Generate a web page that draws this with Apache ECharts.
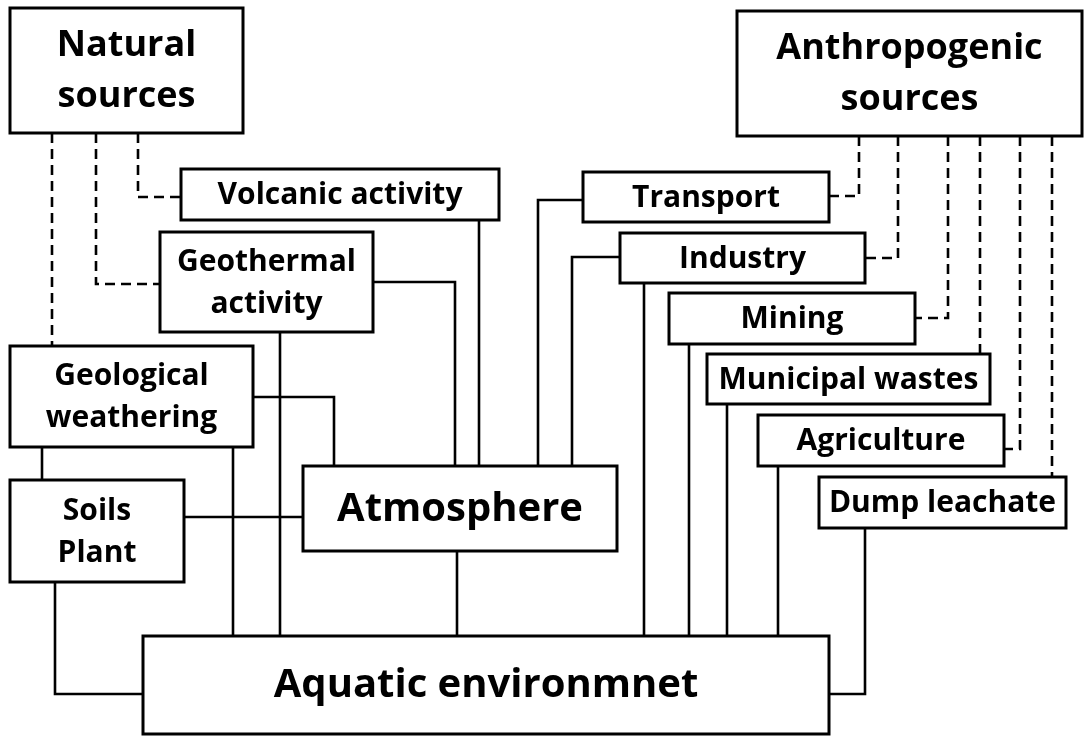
<!DOCTYPE html>
<html>
<head>
<meta charset="utf-8">
<script src="https://cdn.jsdelivr.net/npm/echarts@6/dist/echarts.min.js"></script>
<style>
  html, body { margin: 0; padding: 0; background: #fff; }
  #main { width: 1086px; height: 736px; }
</style>
</head>
<body>
<div id="main"></div>
<script>
// diagram space is 1086 x 736 units, y grows downwards
const boxLabels = [
    'Natural\nsources', 'Anthropogenic\nsources', 'Volcanic activity', 'Transport',
    'Industry', 'Geothermal\nactivity', 'Mining', 'Municipal wastes',
    'Geological\nweathering', 'Agriculture', 'Dump leachate', 'Soils\nPlant',
    'Atmosphere', 'Aquatic environmnet'
];
// [x0, y0, x1, y1] of each box
const boxExtents = [
    [10, 8, 243, 133], [737, 11, 1082, 136], [181, 169, 499, 220], [583, 172, 829, 222],
    [620, 233, 865, 283], [160, 232, 373, 332], [669, 293, 915, 344], [707, 354, 990, 404],
    [10, 346, 253, 447], [758, 415, 1004, 466], [819, 477, 1066, 528], [10, 480, 184, 582],
    [303, 466, 617, 551], [143, 636, 829, 734]
];
// solid connections (polylines)
const solidLinks = [
    [[479, 220], [479, 466]],
    [[373, 282], [455, 282], [455, 466]],
    [[280, 332], [280, 636]],
    [[253, 397], [334, 397], [334, 466]],
    [[233, 447], [233, 636]],
    [[42, 447], [42, 480]],
    [[184, 517], [303, 517]],
    [[55, 582], [55, 694], [143, 694]],
    [[457, 551], [457, 636]],
    [[583, 200], [538, 200], [538, 466]],
    [[620, 257], [572, 257], [572, 466]],
    [[644, 283], [644, 636]],
    [[689, 344], [689, 636]],
    [[727, 404], [727, 636]],
    [[778, 466], [778, 636]],
    [[865, 528], [865, 694], [829, 694]]
];
// dashed connections from the two source boxes
const dashedLinks = [
    [[138, 133], [138, 197], [181, 197]],
    [[96, 133], [96, 284], [160, 284]],
    [[52, 133], [52, 346]],
    [[859, 136], [859, 196], [829, 196]],
    [[898, 136], [898, 258], [865, 258]],
    [[948, 136], [948, 318], [915, 318]],
    [[980, 136], [980, 354]],
    [[1020, 136], [1020, 449], [1004, 449]],
    [[1052, 136], [1052, 477]]
];

const headerBoxes = ['Natural\nsources', 'Anthropogenic\nsources'];
const mainBoxes = ['Atmosphere', 'Aquatic environmnet'];

function labelFont(label) {
    if (mainBoxes.indexOf(label) >= 0) return { size: 40, lh: 48 };
    if (headerBoxes.indexOf(label) >= 0) return { size: 36, lh: 51 };
    return { size: 30, lh: 42 };
}

const chart = echarts.init(document.getElementById('main'), null, { renderer: 'canvas' });

const option = {
    backgroundColor: '#fff',
    animation: false,
    grid: { left: 0, right: 0, top: 0, bottom: 0 },
    xAxis: { type: 'value', min: 0, max: 1086, show: false },
    yAxis: { type: 'value', min: 0, max: 736, inverse: true, show: false },
    series: [
        {
            type: 'lines',
            coordinateSystem: 'cartesian2d',
            polyline: true,
            silent: true,
            z: 1,
            lineStyle: { color: '#000', width: 2.6, opacity: 1 },
            data: solidLinks.map(function (pts) { return { coords: pts }; })
        },
        {
            type: 'lines',
            coordinateSystem: 'cartesian2d',
            polyline: true,
            silent: true,
            z: 1,
            lineStyle: { color: '#000', width: 2.6, opacity: 1, type: [10, 6] },
            data: dashedLinks.map(function (pts) { return { coords: pts }; })
        },
        {
            type: 'custom',
            coordinateSystem: 'cartesian2d',
            z: 2,
            silent: true,
            data: boxExtents.map(function (e, i) { return [i].concat(e); }),
            renderItem: function (params, api) {
                const p0 = api.coord([api.value(1), api.value(2)]);
                const p1 = api.coord([api.value(3), api.value(4)]);
                const label = boxLabels[api.value(0)];
                const f = labelFont(label);
                return {
                    type: 'group',
                    children: [
                        {
                            type: 'rect',
                            shape: { x: p0[0], y: p0[1], width: p1[0] - p0[0], height: p1[1] - p0[1] },
                            style: { fill: '#fff', stroke: '#000', lineWidth: 3 }
                        },
                        {
                            type: 'text',
                            style: {
                                text: label,
                                x: (p0[0] + p1[0]) / 2,
                                y: (p0[1] + p1[1]) / 2 + 1,
                                align: 'center',
                                verticalAlign: 'middle',
                                fontFamily: '"Open Sans"',
                                fontWeight: 'bold',
                                fontSize: f.size,
                                lineHeight: f.lh,
                                fill: '#000'
                            }
                        }
                    ]
                };
            }
        }
    ]
};

chart.setOption(option, true);
</script>
</body>
</html>
